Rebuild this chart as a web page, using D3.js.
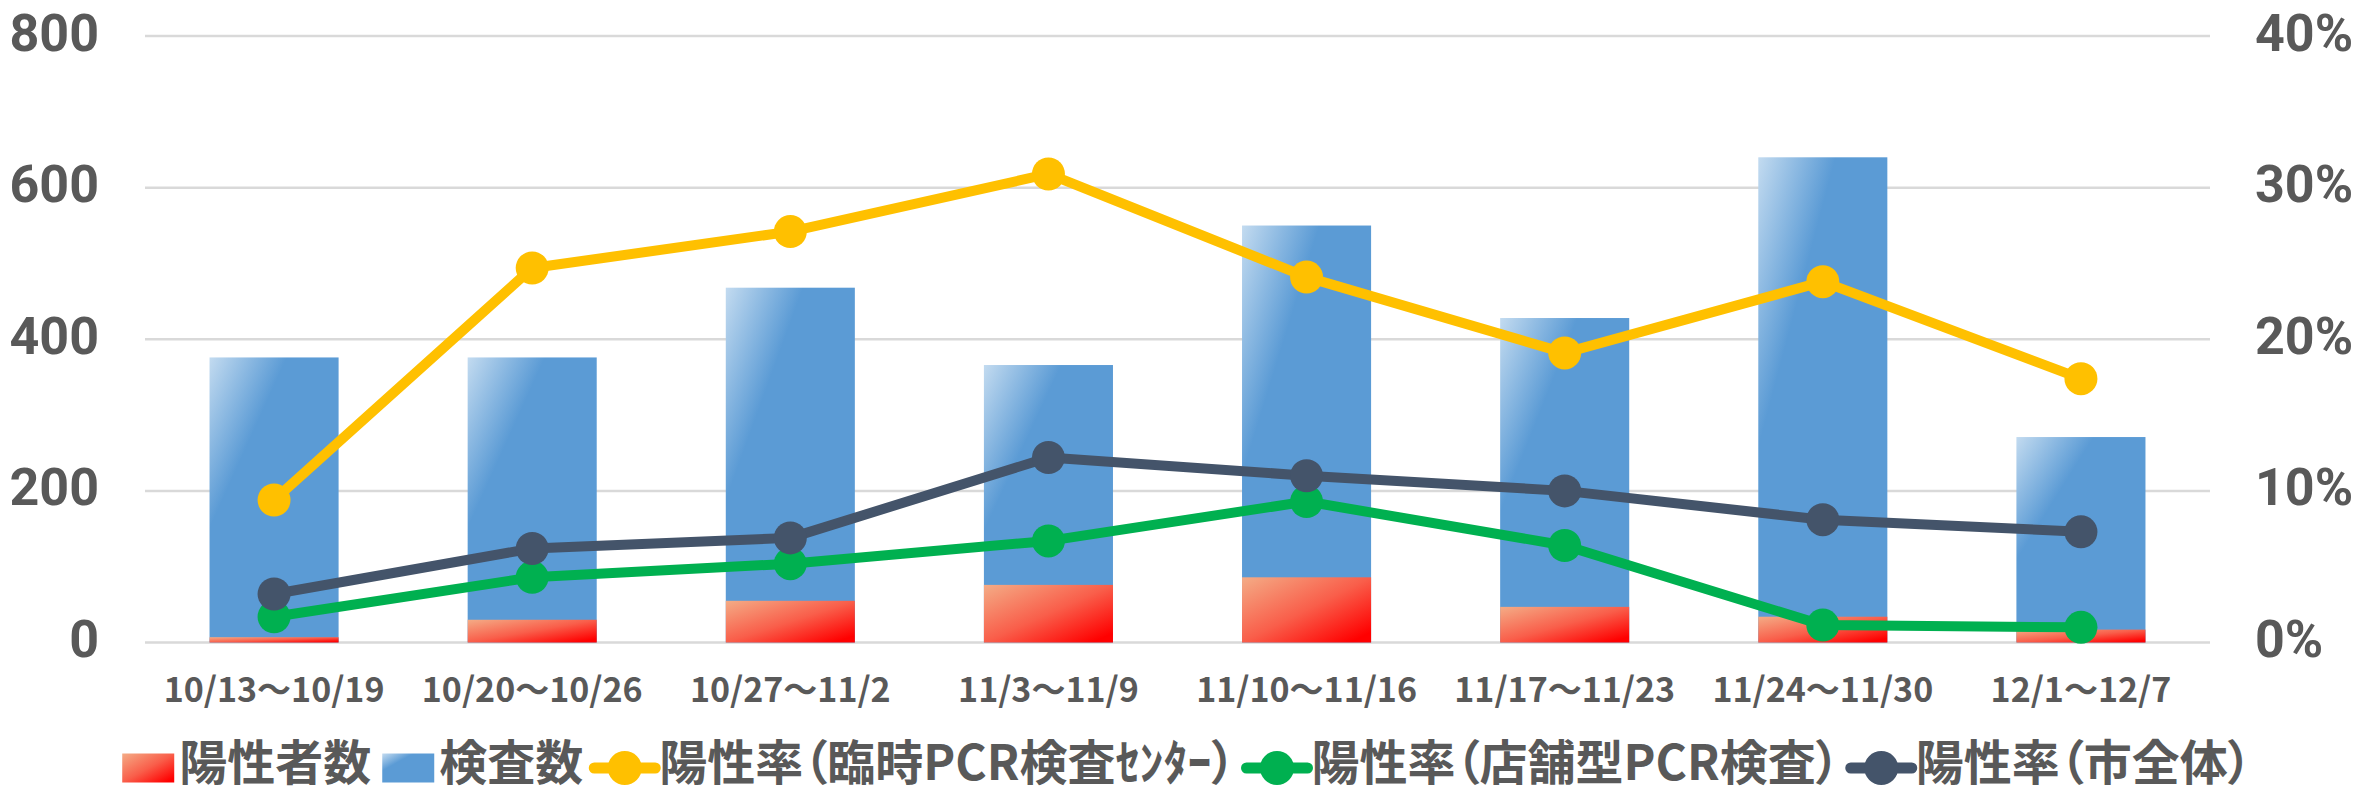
<!DOCTYPE html>
<html>
<head>
<meta charset="utf-8">
<script src="https://cdn.jsdelivr.net/npm/d3@7"></script>
<style>
  html, body { margin: 0; padding: 0; background: #ffffff; }
  svg { display: block; }
  text { font-family: "Noto Sans CJK JP", "Noto Sans", sans-serif; fill: #595959; }
</style>
</head>
<body>
<script>
// ---- data ----
const categories = ["10/13～10/19", "10/20～10/26", "10/27～11/2", "11/3～11/9", "11/10～11/16", "11/17～11/23", "11/24～11/30", "12/1～12/7"];
const positives = [7, 30, 55, 76, 86, 47, 34, 17];          // 陽性者数
const tests = [376, 376, 468, 366, 550, 428, 640, 271];      // 検査数
const rateCenter = [9.4, 24.7, 27.1, 30.9, 24.1, 19.1, 23.8, 17.4]; // 陽性率（臨時PCR検査ｾﾝﾀｰ）
const rateStore = [1.7, 4.3, 5.2, 6.7, 9.3, 6.4, 1.15, 1.0];       // 陽性率（店舗型PCR検査）
const rateCity = [3.2, 6.2, 6.9, 12.2, 11.0, 10.0, 8.1, 7.3];      // 陽性率（市全体）
const leftTicks = [0, 200, 400, 600, 800];
const rightTicks = [0, 10, 20, 30, 40];
const seriesNames = ["陽性者数", "検査数", "陽性率（臨時PCR検査ｾﾝﾀｰ）", "陽性率（店舗型PCR検査）", "陽性率（市全体）"];

// ---- layout ----
const W = 2377, H = 794;
const plot = { left: 145, right: 2210, top: 36, bottom: 642.5 };
const colors = { center: "#FFC000", store: "#00B050", city: "#44546A", blue: "#5B9BD5" };

const svg = d3.select("body").append("svg").attr("width", W).attr("height", H);
const defs = svg.append("defs");

const gBlue = defs.append("linearGradient").attr("id", "gBlue")
  .attr("x1", 0).attr("y1", 0).attr("x2", 1).attr("y2", 1);
gBlue.append("stop").attr("offset", 0).attr("stop-color", "#C3DBF0");
gBlue.append("stop").attr("offset", 0.3).attr("stop-color", "#5B9BD5");
gBlue.append("stop").attr("offset", 1).attr("stop-color", "#5B9BD5");

const gRed = defs.append("linearGradient").attr("id", "gRed")
  .attr("x1", 0).attr("y1", 0).attr("x2", 1).attr("y2", 1);
gRed.append("stop").attr("offset", 0).attr("stop-color", "#F4AC86");
gRed.append("stop").attr("offset", 0.5).attr("stop-color", "#F95E4A");
gRed.append("stop").attr("offset", 0.92).attr("stop-color", "#FF0000");

const x = d3.scaleBand().domain(categories).range([plot.left, plot.right])
  .paddingInner(0.5).paddingOuter(0.25);
const yL = d3.scaleLinear().domain([0, 800]).range([plot.bottom, plot.top]);
const yR = d3.scaleLinear().domain([0, 40]).range([plot.bottom, plot.top]);

// gridlines
svg.append("g").selectAll("line").data(leftTicks).join("line")
  .attr("x1", plot.left).attr("x2", plot.right)
  .attr("y1", d => yL(d)).attr("y2", d => yL(d))
  .attr("stroke", "#D9D9D9").attr("stroke-width", 2.5);

const numFont = "Roboto, 'Liberation Sans', sans-serif";

// left axis
const axL = d3.axisLeft(yL).tickValues(leftTicks).tickSize(0).tickPadding(0).tickFormat(d3.format("d"));
const gL = svg.append("g").attr("transform", `translate(99,0)`).call(axL);
gL.select(".domain").remove();
gL.selectAll("text").attr("font-size", 52).attr("font-weight", 700)
  .attr("fill", "#595959").attr("dy", 14).attr("y", 0)
  .style("font-family", numFont);

// right axis
const axR = d3.axisRight(yR).tickValues(rightTicks).tickSize(0).tickPadding(0).tickFormat(d => d + "%");
const gR = svg.append("g").attr("transform", `translate(2255,0)`).call(axR);
gR.select(".domain").remove();
gR.selectAll("text").attr("font-size", 52).attr("font-weight", 700)
  .attr("fill", "#595959").attr("dy", 14).attr("y", 0)
  .style("font-family", numFont);

// x axis labels
const axX = d3.axisBottom(x).tickSize(0).tickPadding(0);
const gX = svg.append("g").attr("transform", `translate(0,${plot.bottom})`).call(axX);
gX.select(".domain").remove();
gX.selectAll("text").attr("font-size", 34).attr("font-weight", 700)
  .attr("fill", "#595959").attr("dy", 0).attr("y", 59)
  .style("font-family", "'Noto Sans CJK JP', sans-serif");

// bars
svg.append("g").selectAll("rect").data(tests).join("rect")
  .attr("x", (d, i) => x(categories[i])).attr("width", x.bandwidth())
  .attr("y", d => yL(d)).attr("height", d => yL(0) - yL(d))
  .attr("fill", "url(#gBlue)");
svg.append("g").selectAll("rect").data(positives).join("rect")
  .attr("x", (d, i) => x(categories[i])).attr("width", x.bandwidth())
  .attr("y", d => yL(d)).attr("height", d => yL(0) - yL(d))
  .attr("fill", "url(#gRed)");

// lines
const cx = i => x(categories[i]) + x.bandwidth() / 2;
function drawLine(vals, color) {
  const line = d3.line().x((d, i) => cx(i)).y(d => yR(d));
  const g = svg.append("g");
  g.append("path").datum(vals).attr("d", line).attr("fill", "none")
    .attr("stroke", color).attr("stroke-width", 10).attr("stroke-linejoin", "round");
  g.selectAll("circle").data(vals).join("circle")
    .attr("cx", (d, i) => cx(i)).attr("cy", d => yR(d)).attr("r", 16.5).attr("fill", color);
}
drawLine(rateCenter, colors.center);
drawLine(rateStore, colors.store);
drawLine(rateCity, colors.city);

// legend
const legendItems = [
  { name: seriesNames[0], type: "rect", fill: "url(#gRed)" },
  { name: seriesNames[1], type: "rect", fill: "url(#gBlue)" },
  { name: seriesNames[2], type: "line", fill: colors.center },
  { name: seriesNames[3], type: "line", fill: colors.store },
  { name: seriesNames[4], type: "line", fill: colors.city }
];
const lg = svg.append("g");
const baseY = 780, midY = 768;
let cur = 0;
legendItems.forEach(it => {
  const g = lg.append("g");
  if (it.type === "rect") {
    g.append("rect").attr("x", cur).attr("y", midY - 14.5).attr("width", 52).attr("height", 29).attr("fill", it.fill);
    cur += 52 + 5;
  } else {
    g.append("line").attr("x1", cur).attr("x2", cur + 61).attr("y1", midY).attr("y2", midY)
      .attr("stroke", it.fill).attr("stroke-width", 11).attr("stroke-linecap", "round");
    g.append("circle").attr("cx", cur + 30.5).attr("cy", midY).attr("r", 17).attr("fill", it.fill);
    cur += 61 + 4;
  }
  const t = g.append("text").attr("x", cur).attr("y", baseY).text(it.name)
    .attr("font-size", 48).attr("font-weight", 700).attr("fill", "#595959")
    .style("font-feature-settings", "'palt'");
  cur += t.node().getComputedTextLength() + 11;
});
const total = cur - 11;
lg.attr("transform", `translate(${1187 - total / 2},0)`);
</script>
</body>
</html>
